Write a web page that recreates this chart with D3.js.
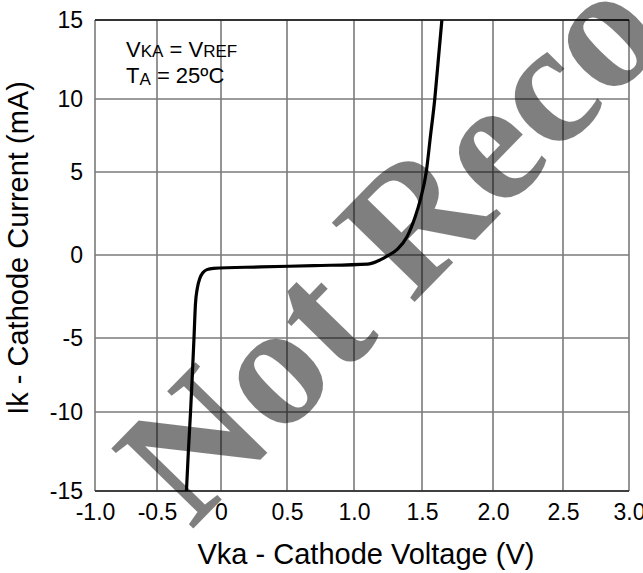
<!DOCTYPE html>
<html>
<head>
<meta charset="utf-8">
<script src="https://cdn.jsdelivr.net/npm/d3@7"></script>
<style>
  html, body { margin: 0; padding: 0; background: #fff; }
  svg { display: block; }
</style>
</head>
<body>
<svg id="chart" width="643" height="573"></svg>
<script>
// ---- data ----
const xTicks = [-1.0, -0.5, 0, 0.5, 1.0, 1.5, 2.0, 2.5, 3.0];
const xTickLabels = ["-1.0", "-0.5", "0", "0.5", "1.0", "1.5", "2.0", "2.5", "3.0"];
const yTicks = [15, 10, 5, 0, -5, -10, -15];
const yTickLabels = ["15", "10", "5", "0", "-5", "-10", "-15"];
// Cathode voltage (V) and cathode current (mA) along the curve
const vka = [-0.27, -0.255, -0.238, -0.224, -0.211, -0.2, -0.185, -0.165, -0.14, -0.11, -0.06,
             0.3, 0.7, 1.1, 1.17, 1.24, 1.32, 1.39, 1.45, 1.49, 1.53, 1.56, 1.59, 1.615, 1.64];
const ik  = [-15, -12.5, -10, -7.5, -5, -3, -2, -1.4, -1.05, -0.88, -0.8,
             -0.72, -0.64, -0.55, -0.38, -0.08, 0.35, 1.1, 2.3, 3.4, 5, 7.5, 10, 12.5, 15];
const xTitle = "Vka - Cathode Voltage (V)";
const yTitle = "Ik - Cathode Current (mA)";
const watermark = "Not Recommended";

// ---- layout ----
const svg = d3.select("#chart");
const x = d3.scaleLinear().domain(xTicks).range([95, 157, 221, 287, 354, 422, 493, 563, 629]);
const y = d3.scaleLinear().domain(yTicks).range([20, 99, 172, 255, 338, 412, 491]);
const font = "'Liberation Sans', Arial, Helvetica, sans-serif";

// grid
const grid = svg.append("g");
grid.selectAll("line.v").data(xTicks).join("line")
  .attr("x1", d => x(d)).attr("x2", d => x(d))
  .attr("y1", y(15)).attr("y2", y(-15))
  .attr("stroke", "#7a7a7a").attr("stroke-width", 1.6);
grid.selectAll("line.h").data(yTicks).join("line")
  .attr("x1", x(-1)).attr("x2", x(3))
  .attr("y1", d => y(d)).attr("y2", d => y(d))
  .attr("stroke", "#7a7a7a").attr("stroke-width", 1.6);
// frame top / bottom darker
svg.append("line").attr("x1", x(-1)).attr("x2", x(3)).attr("y1", y(15)).attr("y2", y(15))
  .attr("stroke", "#111").attr("stroke-width", 1.4);
svg.append("line").attr("x1", x(-1)).attr("x2", x(3)).attr("y1", y(-15)).attr("y2", y(-15))
  .attr("stroke", "#222").attr("stroke-width", 1.6);

// axes tick labels
const xAxis = d3.axisBottom(x).tickValues(xTicks)
  .tickFormat((d, i) => xTickLabels[i]).tickSize(0).tickPadding(13);
const gx = svg.append("g").attr("transform", `translate(0,${y(-15)})`).call(xAxis);
gx.select(".domain").remove();
gx.selectAll("text").attr("font-family", font).attr("font-size", 23).attr("fill", "#000");

const yAxis = d3.axisLeft(y).tickValues(yTicks)
  .tickFormat((d, i) => yTickLabels[i]).tickSize(0).tickPadding(12);
const gy = svg.append("g").attr("transform", `translate(${x(-1)},0)`).call(yAxis);
gy.select(".domain").remove();
gy.selectAll("text").attr("font-family", font).attr("font-size", 23).attr("fill", "#000");

// axis titles
svg.append("text").attr("x", 366).attr("y", 564).attr("text-anchor", "middle")
  .attr("font-family", font).attr("font-size", 29).attr("fill", "#000").text(xTitle);
svg.append("text").attr("transform", "translate(28,248) rotate(-90)").attr("text-anchor", "middle")
  .attr("font-family", font).attr("font-size", 29).attr("fill", "#000").text(yTitle);

// curve
const pts = vka.map((v, i) => [v, ik[i]]);
const line = d3.line().x(d => x(d[0])).y(d => y(d[1])).curve(d3.curveMonotoneX);
svg.append("path").attr("d", line(pts)).attr("fill", "none")
  .attr("stroke", "#000").attr("stroke-width", 3.2).attr("stroke-linejoin", "round");

// annotation
const a1 = svg.append("text").attr("x", 126).attr("y", 57).attr("font-family", font).attr("fill", "#000");
a1.append("tspan").attr("font-size", 22).text("V");
a1.append("tspan").attr("font-size", 17).text("KA");
a1.append("tspan").attr("font-size", 22).text(" = V");
a1.append("tspan").attr("font-size", 17).text("REF");
const a2 = svg.append("text").attr("x", 126).attr("y", 83).attr("font-family", font).attr("fill", "#000");
a2.append("tspan").attr("font-size", 22).text("T");
a2.append("tspan").attr("font-size", 17).attr("dy", 2).text("A");
a2.append("tspan").attr("font-size", 22).attr("dy", -2).text(" = 25ºC");

// watermark
svg.append("text").attr("transform", "translate(191,531) rotate(-45.7)")
  .attr("font-family", "'Liberation Serif', 'Times New Roman', serif")
  .attr("font-weight", "bold").attr("font-size", 175)
  .attr("fill", "#000").attr("fill-opacity", 0.5).text(watermark);
</script>
</body>
</html>
